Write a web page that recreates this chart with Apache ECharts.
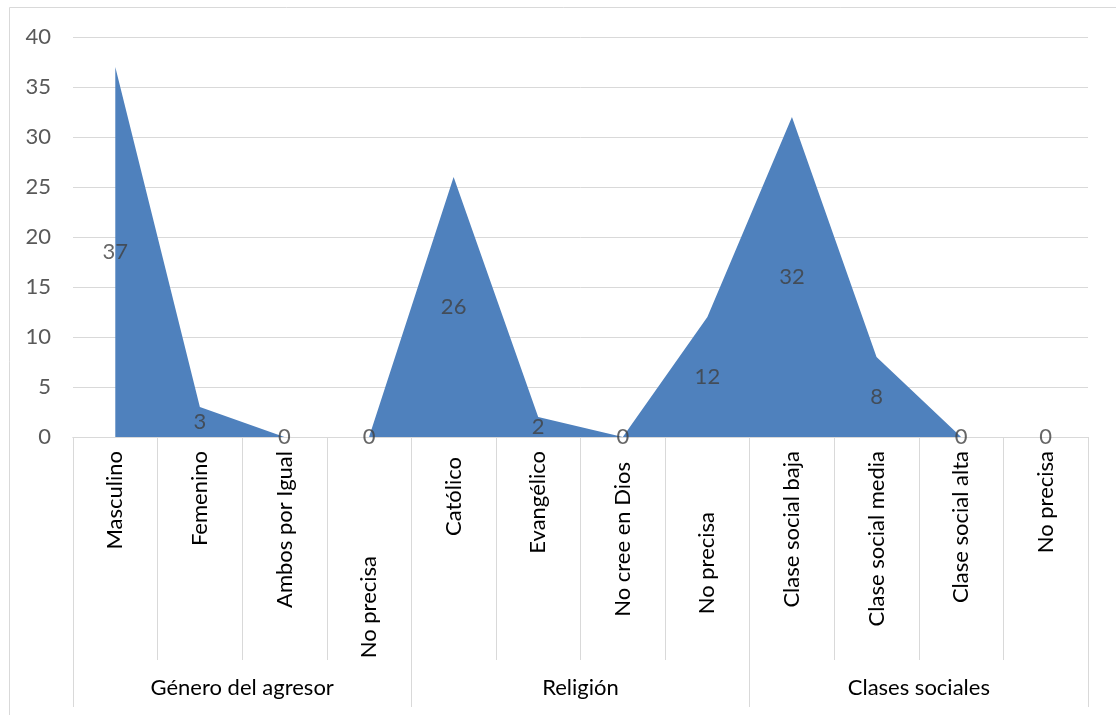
<!DOCTYPE html>
<html>
<head>
<meta charset="utf-8">
<script src="https://cdn.jsdelivr.net/npm/echarts@6/dist/echarts.min.js"></script>
<style>
html,body{margin:0;padding:0;background:#fff;}
#chart{width:1116px;height:715px;}
</style>
</head>
<body>
<div id="chart"></div>
<script>
// ---- data ----
const categories = ['Masculino','Femenino','Ambos por Igual','No precisa','Católico','Evangélico','No cree en Dios','No precisa','Clase social baja','Clase social media','Clase social alta','No precisa'];
const groups = ['Género del agresor','Religión','Clases sociales'];
const values = [37, 3, 0, 0, 26, 2, 0, 12, 32, 8, 0, 0];
const yTicks = [0, 5, 10, 15, 20, 25, 30, 35, 40];

// ---- style (label offsets, not data) ----
const labelShift = [0, 0, 0, 105, 6, 0, 11, 61, 0, 0, 0, 0];
const FONT = 'Lato';
const FS = 22;

const rich = {};
labelShift.forEach((s, i) => {
  rich['s' + i] = { padding: [0, s, 0, 0], fontFamily: FONT, fontSize: FS, color: '#000' };
});

const chart = echarts.init(document.getElementById('chart'), null, { renderer: 'canvas' });
chart.setOption({
  animation: false,
  backgroundColor: '#fff',
  textStyle: { fontFamily: FONT },
  grid: { left: 73, right: 28, top: 37, bottom: 278, containLabel: false },
  graphic: [{
    type: 'rect', shape: { x: 9.5, y: 7.5, width: 1130, height: 730 },
    style: { fill: 'none', stroke: '#d9d9d9', lineWidth: 1 }, silent: true, z: -1
  }],
  xAxis: [{
    type: 'category',
    data: categories,
    position: 'bottom',
    boundaryGap: true,
    axisLine: { show: true, lineStyle: { color: '#d9d9d9', width: 1 } },
    axisTick: { show: true, interval: 0, length: 223, lineStyle: { color: '#d9d9d9', width: 1 } },
    axisLabel: {
      interval: 0, rotate: 90, margin: 14,
      formatter: (v, i) => '{s' + i + '|' + v + '}',
      rich: rich,
      fontFamily: FONT, fontSize: FS, color: '#000'
    },
    splitLine: { show: false }
  }, {
    type: 'category',
    data: groups,
    position: 'bottom',
    boundaryGap: true,
    axisLine: { show: true, lineStyle: { color: '#d9d9d9', width: 1 } },
    axisTick: { show: true, interval: 0, length: 270, lineStyle: { color: '#d9d9d9', width: 1 } },
    axisLabel: { interval: 0, margin: 240, fontFamily: FONT, fontSize: FS, color: '#000' },
    splitLine: { show: false }
  }],
  yAxis: {
    type: 'value',
    min: yTicks[0], max: yTicks[yTicks.length - 1], interval: yTicks[1] - yTicks[0],
    axisLine: { show: false },
    axisTick: { show: false },
    axisLabel: { margin: 22, fontFamily: FONT, fontSize: FS, color: '#595959' },
    splitLine: { show: true, lineStyle: { color: '#d9d9d9', width: 1 } }
  },
  series: [{
    type: 'line',
    xAxisIndex: 0,
    data: values,
    symbol: 'none',
    lineStyle: { width: 0, color: '#4f81bd' },
    itemStyle: { color: '#4f81bd' },
    areaStyle: { color: '#4f81bd', opacity: 1, origin: 'start' },
    z: 2
  }, {
    type: 'scatter',
    xAxisIndex: 0,
    data: values.map(v => v / 2),
    symbolSize: 1,
    itemStyle: { color: 'rgba(0,0,0,0)' },
    label: {
      show: true, position: 'inside',
      formatter: p => String(values[p.dataIndex]),
      fontFamily: FONT, fontSize: FS, color: '#404040'
    },
    z: 5
  }]
});
</script>
</body>
</html>
